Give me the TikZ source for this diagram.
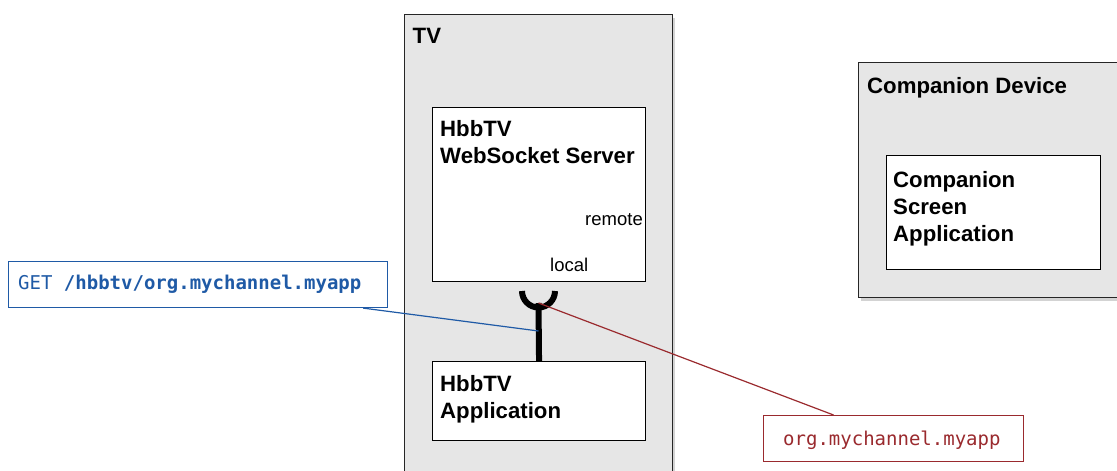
\documentclass[tikz,border=0pt]{standalone}
\usepackage{fontspec}
\setmainfont{Liberation Sans}
\newfontfamily\codefont{DejaVu Sans Mono}
\usetikzlibrary{calc,shadows}
\definecolor{boxgray}{HTML}{E6E6E6}
\definecolor{getblue}{HTML}{1F5AA6}
\definecolor{idred}{HTML}{9A2A2E}
\newcommand{\boxtitle}{\fontsize{22.2}{27}\selectfont\bfseries}

\begin{document}
\begin{tikzpicture}[
    x=1pt, y=-1pt,
    device/.style={draw=black!85, line width=1.1pt, fill=boxgray, anchor=north west, inner sep=0pt,
      drop shadow={opacity=0.35,shadow xshift=2pt,shadow yshift=-3pt}},
    comp/.style={draw=black, line width=1.1pt, fill=white, anchor=north west, inner sep=0pt},
    title/.style={anchor=north west, inner sep=0pt, align=left, font=\boxtitle},
    port/.style={inner sep=0pt, font=\fontsize{18.5}{22}\selectfont},
    code/.style={inner sep=0pt, anchor=base west, font=\codefont\fontsize{19}{22}\selectfont},
    note/.style={line width=1.1pt, fill=white, anchor=north west, inner sep=0pt},
    stem/.style={line width=6pt}
  ]
    \useasboundingbox (0,0) rectangle (1117,471);
    % appareils
    \node[device, minimum width=268pt, minimum height=470pt] (tv) at (404,14) {};
    \node[title] at (412.5,28) {TV};
    \node[device, minimum width=270pt, minimum height=235pt] (cdev) at (858,62) {};
    \node[title] at (867,77.5) {Companion Device};
    % composants
    \node[comp, minimum width=213pt, minimum height=174pt] (wss) at (432,107) {};
    \node[title] at (440,120) {HbbTV\\WebSocket Server};
    \node[port, anchor=base east] at (643,225) {remote};
    \node[port, anchor=base west] at (550,271.5) {local};
    \node[comp, minimum width=213pt, minimum height=79pt] (app) at (432,361) {};
    \node[title] at (440,375) {HbbTV\\Application};
    \node[comp, minimum width=214pt, minimum height=114pt] (csa) at (886,155) {};
    \node[title] at (893,171) {Companion\\Screen\\Application};
    % prise locale
    \coordinate (sock) at (538.5,303);
    \draw[stem] (555,291) arc[start angle=0, end angle=180, radius=16.5];
    \draw[stem] (app.north) -- (sock);
    % annotations
    \node[note, draw=getblue, minimum width=379pt, minimum height=46pt] (get) at (8,261) {};
    \node[code, text=getblue] at (18,289) {GET \textbf{/hbbtv/org.mychannel.myapp}};
    \node[note, draw=idred, minimum width=260pt, minimum height=46pt] (org) at (763,415) {};
    \node[code, text=idred] at (783,445) {org.mychannel.myapp};
    \coordinate (getend) at (538.5,331);
    \draw[getblue, line width=1.2pt] ([xshift=-25pt]get.south east) -- (getend);
    \draw[idred, line width=1.2pt] (sock) -- ([xshift=-60pt]org.north);
\end{tikzpicture}
\end{document}
